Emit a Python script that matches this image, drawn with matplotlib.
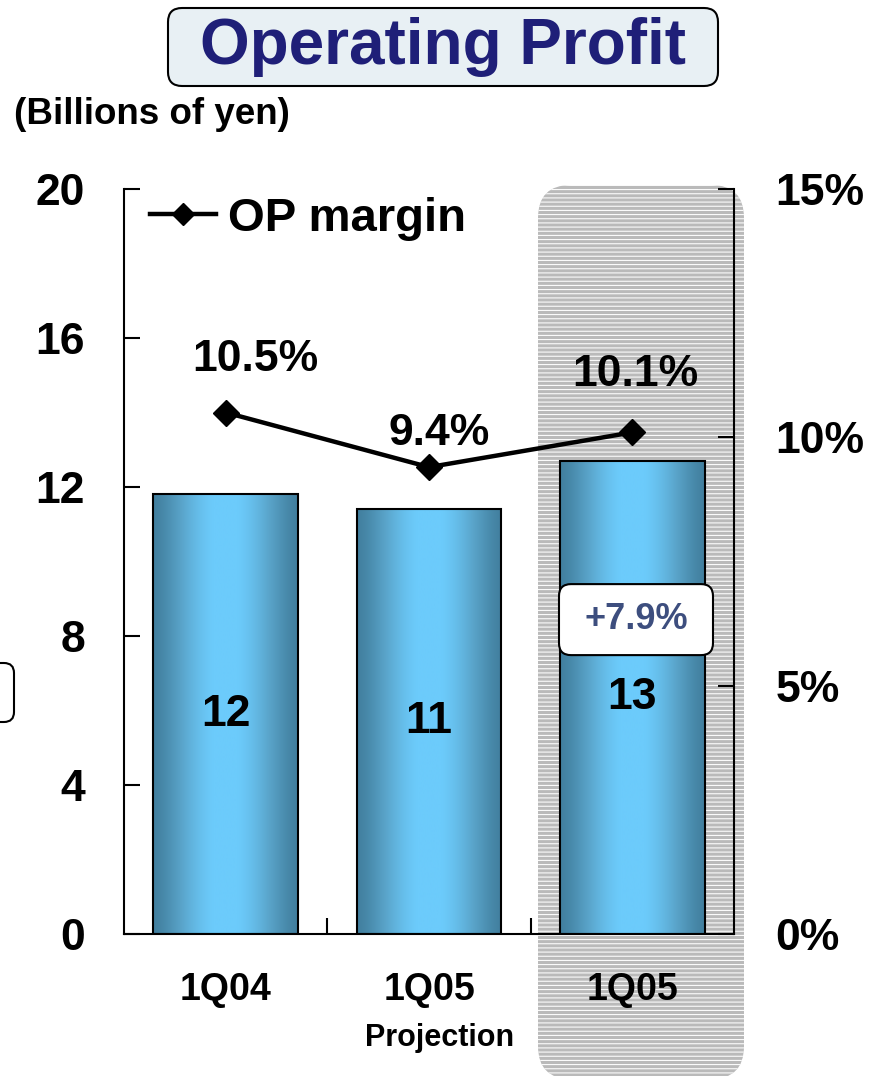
import numpy as np
import matplotlib
matplotlib.use("Agg")
import matplotlib.pyplot as plt
from matplotlib.patches import FancyBboxPatch, Rectangle
from matplotlib.colors import LinearSegmentedColormap
import matplotlib.transforms as mtransforms

# ---------------- data ----------------
categories = ["1Q04", "1Q05", "1Q05"]
sub_labels = ["", "Projection", ""]
op_profit = [11.8, 11.4, 12.7]          # billions of yen (bar heights)
op_profit_labels = ["12", "11", "13"]
op_margin = [10.5, 9.4, 10.1]           # %
margin_labels = ["10.5%", "9.4%", "10.1%"]
left_ticks = [0, 4, 8, 12, 16, 20]
right_ticks = [0, 5, 10, 15]
right_tick_labels = ["0%", "5%", "10%", "15%"]
growth_label = "+7.9%"

# ---------------- style ----------------
plt.rcParams["font.family"] = ["Liberation Sans", "DejaVu Sans"]
plt.rcParams["font.weight"] = "bold"
plt.rcParams["hatch.linewidth"] = 0.75

W, H = 881, 1076
fig = plt.figure(figsize=(W / 100, H / 100), dpi=100)
inch = fig.dpi_scale_trans

# shaded (striped) highlight panel behind the third category
panel = FancyBboxPatch((5.38, -0.03), 7.44 - 5.38, 8.91 + 0.03,
                       boxstyle="round,pad=0,rounding_size=0.33",
                       transform=inch, facecolor="#bababa", edgecolor="white",
                       linewidth=0, hatch="----", zorder=-5)
fig.patches.append(panel)

# title box
title_box = FancyBboxPatch((1.68, 9.90), 7.18 - 1.68, 10.68 - 9.90,
                           boxstyle="round,pad=0,rounding_size=0.14",
                           transform=inch, facecolor="#e8f0f4",
                           edgecolor="black", linewidth=1.5, zorder=-4)
fig.patches.append(title_box)
fig.text(443 / W, 1 - 47 / H, "Operating Profit", ha="center", va="center",
         fontsize=46, fontweight="bold", color="#1f1f78")
fig.text(14 / W, 1 - 114 / H, "(Billions of yen)", ha="left", va="center",
         fontsize=26.5, fontweight="bold", color="black")

# small cut-off box at left edge
side_box = FancyBboxPatch((-0.6, 3.54), 0.74, 0.59,
                          boxstyle="round,pad=0,rounding_size=0.1",
                          transform=inch, facecolor="white",
                          edgecolor="black", linewidth=1.5, zorder=-4)
fig.patches.append(side_box)

# ---------------- axes ----------------
ax = fig.add_axes([124 / W, 1 - 934 / H, 610 / W, 745 / H])
ax.patch.set_visible(False)
x = np.arange(len(categories))
bar_w = 0.71

bars = ax.bar(x, op_profit, width=bar_w, facecolor="none", edgecolor="black",
              linewidth=1.5, zorder=3)

# horizontal gradient fill inside each bar
cmap = LinearSegmentedColormap.from_list(
    "barg", ["#42809f", "#5aa5cb", "#6ccbfb"])
t = np.linspace(0, 1, 256)
prof = np.clip(1.05 * np.sin(np.pi * t) ** 1.4, 0, 1)
grad = prof[np.newaxis, :]
for b in bars:
    x0, y0 = b.get_x(), b.get_y()
    bw, bh = b.get_width(), b.get_height()
    im = ax.imshow(grad, cmap=cmap, vmin=0, vmax=1, aspect="auto",
                   extent=(x0, x0 + bw, y0, y0 + bh), zorder=2,
                   interpolation="bilinear")
    clip = Rectangle((x0, y0), bw, bh, transform=ax.transData)
    im.set_clip_path(clip)

for xi, v, lab in zip(x, op_profit, op_profit_labels):
    ax.text(xi, v / 2, lab, ha="center", va="center", fontsize=32,
            fontweight="bold", color="black", zorder=4)

ax.set_xlim(-0.5, len(categories) - 0.5)
ax.set_ylim(left_ticks[0], left_ticks[-1])
ax.set_yticks(left_ticks)
ax.set_yticklabels([str(v) for v in left_ticks])
ax.set_xticks(x)
ax.set_xticklabels(categories)
ax.set_xticks(x[:-1] + 0.5, minor=True)
ax.tick_params(axis="x", which="major", length=0, pad=27, labelsize=27)
ax.tick_params(axis="x", which="minor", direction="in", length=11.5, width=1.5)
ax.tick_params(axis="y", direction="in", length=11.5, width=1.5, pad=28,
               labelsize=32)
for s in ["top", "right"]:
    ax.spines[s].set_visible(False)
for s in ["left", "bottom"]:
    ax.spines[s].set_linewidth(1.5)

for xi, lab in zip(x, sub_labels):
    if lab:
        ax.text(xi + 0.05, -0.14, lab, transform=ax.get_xaxis_transform(),
                ha="center", va="center", fontsize=22, fontweight="bold")

# growth annotation box on the third bar
gx, gy = 2.018, 8.44
gtrans = inch + mtransforms.ScaledTranslation(gx, gy, ax.transData)
gbox = FancyBboxPatch((-0.77, -0.355), 1.54, 0.71,
                      boxstyle="round,pad=0,rounding_size=0.12",
                      transform=gtrans, facecolor="white", edgecolor="black",
                      linewidth=1.5, zorder=5)
ax.add_patch(gbox)
ax.text(gx, gy, growth_label, ha="center", va="center", fontsize=26,
        fontweight="bold", color="#3d4e7e", zorder=6)

# ---------------- secondary axis: margin line ----------------
ax2 = ax.twinx()
ax2.patch.set_visible(False)
ax2.set_ylim(right_ticks[0], right_ticks[-1])
ax2.set_yticks(right_ticks)
ax2.set_yticklabels(right_tick_labels)
ax2.tick_params(axis="y", direction="in", length=11.5, width=1.5, pad=30,
                labelsize=32)
for s in ["top", "left", "bottom"]:
    ax2.spines[s].set_visible(False)
ax2.spines["right"].set_linewidth(1.5)

line, = ax2.plot(x, op_margin, color="black", linewidth=3.2, marker="D",
                 markersize=13, label="OP margin", zorder=5)

label_offsets = [(21, 38), (7, 24), (2, 42)]   # points, label placement
for xi, v, lab, off in zip(x, op_margin, margin_labels, label_offsets):
    ax2.annotate(lab, (xi, v), xytext=off, textcoords="offset points",
                 ha="center", va="center", fontsize=32, fontweight="bold")

leg = ax2.legend(handles=[line], loc="center left",
                 bbox_to_anchor=(150 / W, 1 - 219 / H),
                 bbox_transform=fig.transFigure, frameon=False,
                 fontsize=34, handlelength=1.4, handletextpad=0.25,
                 borderpad=0, borderaxespad=0, markerscale=0.9)
for txt in leg.get_texts():
    txt.set_fontweight("bold")

fig.savefig("out.png", dpi=100)
